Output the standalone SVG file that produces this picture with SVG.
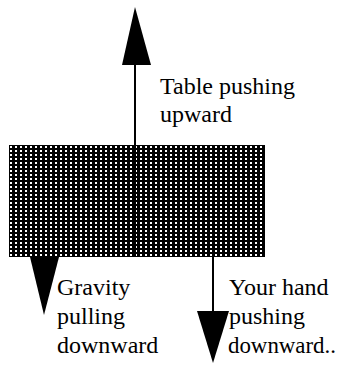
<svg xmlns="http://www.w3.org/2000/svg" width="340" height="366" viewBox="0 0 340 366">
<style>
.lbl{font-family:"Liberation Serif","Times New Roman",serif;font-size:24px;fill:#000}
.shaft{stroke:#000;stroke-width:2;fill:none}
.head{fill:#000;stroke:none}
</style>
<defs>
<pattern id="dots" x="9" y="145" width="5" height="4" patternUnits="userSpaceOnUse">
<rect width="5" height="4" fill="#000"/>
<rect x="1" y="1" width="2" height="2" fill="#fff"/>
</pattern>
</defs>
<rect width="340" height="366" fill="#fff"/>
<g id="block">
<rect x="9" y="145" width="256" height="112" fill="url(#dots)"/>
</g>
<g id="connectors">
<line class="shaft" x1="135" y1="257" x2="135" y2="62"/>
<polygon class="head" points="135,7 151,65 122,65"/>
<line class="shaft" x1="44" y1="230" x2="44" y2="258"/>
<polygon class="head" points="30,257 59,257 44,315"/>
<line class="shaft" x1="213" y1="225" x2="213" y2="314"/>
<polygon class="head" points="197,311 229,311 213,363"/>
</g>
<g id="label-table">
<text class="lbl" x="160" y="94">Table pushing</text>
<text class="lbl" x="160" y="122">upward</text>
</g>
<g id="label-gravity">
<text class="lbl" x="57" y="295">Gravity</text>
<text class="lbl" x="57" y="324">pulling</text>
<text class="lbl" x="57" y="353">downward</text>
</g>
<g id="label-hand">
<text class="lbl" x="229" y="295">Your hand</text>
<text class="lbl" x="229" y="324">pushing</text>
<text class="lbl" x="228" y="353" textLength="108" lengthAdjust="spacingAndGlyphs">downward..</text>
</g>
</svg>
